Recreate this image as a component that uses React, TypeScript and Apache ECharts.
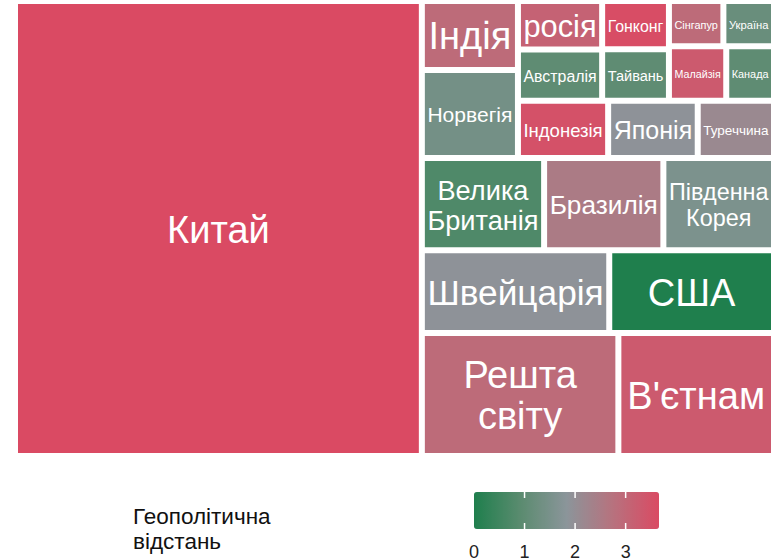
import React, { useEffect, useRef } from "react";
import * as echarts from "echarts";

// ---- data ----
const countries = [
  "Китай", "Решта світу", "В'єтнам", "Швейцарія", "США", "Велика Британія",
  "Бразилія", "Південна Корея", "Норвегія", "Індія", "Індонезія", "Японія",
  "Туреччина", "Австралія", "росія", "Тайвань", "Гонконг", "Малайзія",
  "Канада", "Сінгапур", "Україна",
];
// share (area of each tile)
const shares = [
  53.4, 6.97, 5.52, 4.47, 3.93, 3.26,
  3.18, 2.95, 2.44, 1.91, 1.49, 1.48,
  1.26, 1.24, 1.18, 0.99, 0.93, 0.9,
  0.75, 0.71, 0.66,
];
// geopolitical distance (fill colour)
const geoDistance = [
  3.66, 2.9, 3.3, 1.9, 0.0, 0.75,
  2.5, 1.55, 1.4, 2.9, 3.5, 1.9,
  2.15, 1.0, 3.1, 1.0, 3.6, 3.3,
  1.0, 2.9, 1.2,
];
const legendTicks = [0, 1, 2, 3];
const legendTitle = "Геополітична\nвідстань";
const colorStops = ["#1f7f4d", "#5a8b6f", "#8b959a", "#b7727e", "#da4a63"];

const FONT = '"Liberation Sans", Arial, sans-serif';
const GEO_MIN = 0;
const GEO_MAX = Math.max(...geoDistance);

// ---- squarified layout (unit square, start bottom-left) ----
type Cell = { name: string; geo: number; x0: number; y0: number; x1: number; y1: number };

function worst(row: number[], side: number): number {
  const s = row.reduce((a, b) => a + b, 0);
  let w = 0;
  for (const r of row) {
    const v = Math.max((side * side * r) / (s * s), (s * s) / (side * side * r));
    if (v > w) w = v;
  }
  return w;
}

function squarify(): Cell[] {
  const total = shares.reduce((a, b) => a + b, 0);
  const items = countries
    .map((name, i) => ({ name, a: shares[i] / total, geo: geoDistance[i] }))
    .sort((p, q) => q.a - p.a);
  const rect = { x: 0, y: 0, w: 1, h: 1 };
  const out: Cell[] = [];
  let i = 0;
  while (i < items.length) {
    const horizontal = rect.w < rect.h;
    const side = horizontal ? rect.w : rect.h;
    let row = [items[i]];
    let best = worst(row.map((r) => r.a), side);
    let j = i + 1;
    while (j < items.length) {
      const cand = row.concat(items[j]);
      const s = worst(cand.map((r) => r.a), side);
      if (s <= best) {
        row = cand;
        best = s;
        j++;
      } else break;
    }
    const rowArea = row.reduce((a, r) => a + r.a, 0);
    const thick = rowArea / side;
    let pos = horizontal ? rect.x : rect.y;
    for (const it of row) {
      const len = it.a / thick;
      if (horizontal) out.push({ name: it.name, geo: it.geo, x0: pos, y0: rect.y, x1: pos + len, y1: rect.y + thick });
      else out.push({ name: it.name, geo: it.geo, x0: rect.x, y0: pos, x1: rect.x + thick, y1: pos + len });
      pos += len;
    }
    if (horizontal) {
      rect.y += thick;
      rect.h -= thick;
    } else {
      rect.x += thick;
      rect.w -= thick;
    }
    i = j;
  }
  return out;
}

// ---- label fitting ----
let measureCtx: CanvasRenderingContext2D | null = null;
function textWidth(t: string, size: number): number {
  if (!measureCtx) measureCtx = document.createElement("canvas").getContext("2d");
  if (!measureCtx) return t.length * size * 0.55;
  measureCtx.font = `${size}px "Liberation Sans", Arial, sans-serif`;
  return measureCtx.measureText(t).width;
}

function fitLabel(name: string, w: number, h: number) {
  const CAP = 38;
  const LH = 1.1;
  const availW = w - 5;
  const availH = h - 4;
  const options: string[][] = [[name]];
  const words = name.split(" ");
  for (let k = 1; k < words.length; k++) {
    options.push([words.slice(0, k).join(" "), words.slice(k).join(" ")]);
  }
  let bestSize = -1;
  let bestLines = options[0];
  for (const lines of options) {
    const maxW = Math.max(...lines.map((l) => textWidth(l, 100))) / 100;
    const size = Math.min(CAP, availW / maxW, availH / (lines.length * LH));
    if (size > bestSize + 0.01) {
      bestSize = size;
      bestLines = lines;
    }
  }
  return { text: bestLines.join("\n"), size: Math.max(bestSize, 4), lh: Math.max(bestSize, 4) * LH };
}

const GAP = 3; // half of white border

export default function App() {
  const ref = useRef<HTMLDivElement>(null);

  useEffect(() => {
    if (!ref.current) return;
    const chart = echarts.init(ref.current, undefined, { renderer: "svg" });
    const cells = squarify();

    const barLeft = 474;
    const barTop = 492;
    const barLen = 185;
    const barThick = 37;
    const xOf = (v: number) => barLeft + ((v - GEO_MIN) / (GEO_MAX - GEO_MIN)) * barLen;

    const graphics: any[] = [
      {
        type: "text",
        x: 133,
        y: 528.5,
        style: {
          text: legendTitle,
          fontSize: 22.5,
          lineHeight: 25,
          fontFamily: FONT,
          fill: "#111",
          align: "left",
          verticalAlign: "middle",
        },
        z: 10,
      },
    ];
    legendTicks.forEach((t) => {
      const x = xOf(t);
      graphics.push({
        type: "text",
        x,
        y: 551.5,
        style: {
          text: String(t),
          fontSize: 18,
          lineHeight: 15,
          fontFamily: FONT,
          fill: "#222",
          align: "center",
          verticalAlign: "middle",
        },
        z: 10,
      });
      if (t > GEO_MIN) {
        graphics.push({
          type: "line",
          shape: { x1: x, y1: barTop, x2: x, y2: barTop + 6 },
          style: { stroke: "#fff", lineWidth: 1.5 },
          z: 20,
        });
        graphics.push({
          type: "line",
          shape: { x1: x, y1: barTop + barThick - 6, x2: x, y2: barTop + barThick },
          style: { stroke: "#fff", lineWidth: 1.5 },
          z: 20,
        });
      }
    });

    chart.setOption({
      animation: false,
      backgroundColor: "#ffffff",
      grid: { left: 15, top: 1, width: 762, height: 455, containLabel: false },
      xAxis: { type: "value", min: 0, max: 1, show: false },
      yAxis: { type: "value", min: 0, max: 1, show: false },
      visualMap: {
        type: "continuous",
        min: GEO_MIN,
        max: GEO_MAX,
        dimension: 4,
        seriesIndex: 0,
        orient: "horizontal",
        left: barLeft,
        top: barTop,
        itemWidth: barThick,
        itemHeight: barLen,
        calculable: false,
        hoverLink: false,
        padding: 0,
        inRange: { color: colorStops },
      },
      graphic: graphics,
      series: [
        {
          type: "custom",
          coordinateSystem: "cartesian2d",
          clip: false,
          data: cells.map((c) => ({ name: c.name, value: [c.x0, c.y0, c.x1, c.y1, c.geo] })),
          renderItem: (params: any, api: any) => {
            const tl = api.coord([api.value(0), api.value(3)]);
            const br = api.coord([api.value(2), api.value(1)]);
            const x = tl[0] + GAP;
            const y = tl[1] + GAP;
            const w = br[0] - tl[0] - 2 * GAP;
            const h = br[1] - tl[1] - 2 * GAP;
            const name = cells[params.dataIndex].name;
            const lab = fitLabel(name, w, h);
            return {
              type: "group",
              children: [
                {
                  type: "rect",
                  shape: { x, y, width: w, height: h },
                  style: { fill: api.visual("color") },
                },
                {
                  type: "text",
                  x: x + w / 2,
                  y: y + h / 2 + 1,
                  style: {
                    text: lab.text,
                    fontSize: lab.size,
                    lineHeight: lab.lh,
                    fontFamily: FONT,
                    fill: "#ffffff",
                    align: "center",
                    verticalAlign: "middle",
                  },
                },
              ],
            };
          },
        },
      ],
    });
    return () => chart.dispose();
  }, []);

  return (
    <div
      ref={ref}
      style={{ position: "absolute", left: 0, top: 0, width: 774, height: 560, background: "#fff" }}
    />
  );
}
